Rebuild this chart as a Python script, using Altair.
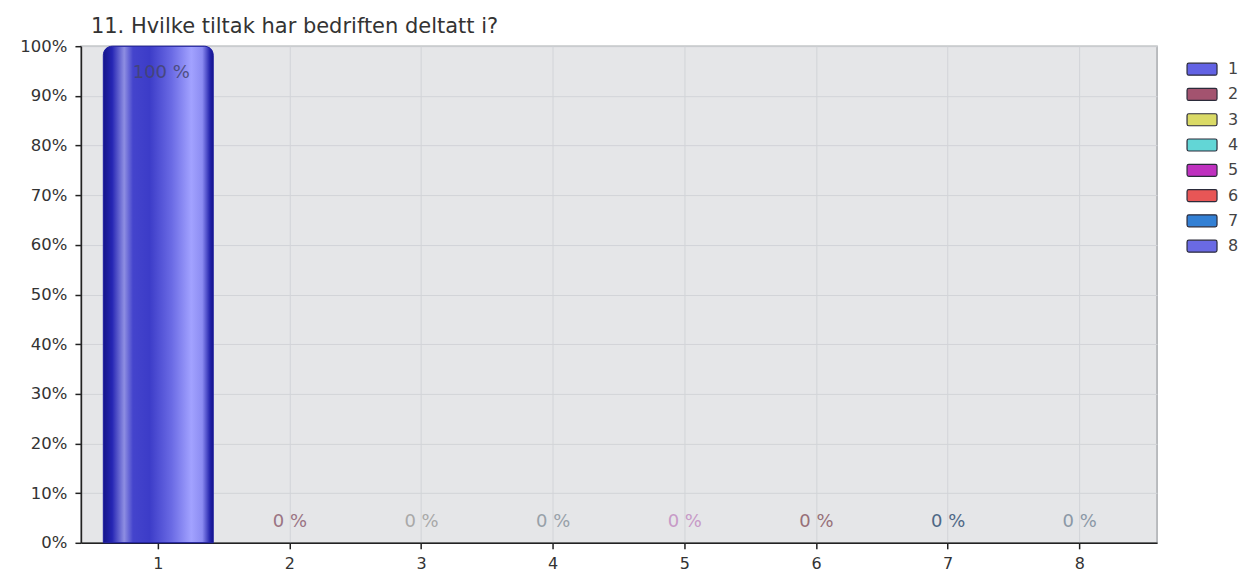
import altair as alt
import pandas as pd

# ---- data ----
categories = ["1", "2", "3", "4", "5", "6", "7", "8"]
shares = [1.0, 0.0, 0.0, 0.0, 0.0, 0.0, 0.0, 0.0]
value_labels = ["100 %", "0 %", "0 %", "0 %", "0 %", "0 %", "0 %", "0 %"]
y_ticks = [0, 0.1, 0.2, 0.3, 0.4, 0.5, 0.6, 0.7, 0.8, 0.9, 1.0]
title_text = "11. Hvilke tiltak har bedriften deltatt i?"

# ---- styling ----
legend_colors = ["#6262e4", "#a3536f", "#dada66", "#62d6d6", "#bf31bf",
                 "#e85656", "#3380d4", "#6a6ae4"]
label_colors = ["#45456e", "#9a7483", "#a9a9a9", "#98a1a8", "#c79ac7",
                "#977078", "#4f6886", "#8b98a6"]
FONT = "DejaVu Sans"

df = pd.DataFrame({"cat": categories, "share": shares, "label": value_labels})

x_enc = alt.X(
    "cat:N",
    sort=categories,
    scale=alt.Scale(paddingInner=0.165, paddingOuter=0.17),
    axis=alt.Axis(
        title=None, labelAngle=0, bandPosition=0.5, grid=True,
        gridColor="#d2d4d8", gridWidth=1, tickColor="#222", tickSize=6,
        tickWidth=1.5, domainColor="#222", domainWidth=1.5,
        labelFontSize=16, labelColor="#333", labelFont=FONT, labelPadding=7,
    ),
)
y_enc = alt.Y(
    "share:Q",
    scale=alt.Scale(domain=[0, 1], nice=False),
    axis=alt.Axis(
        title=None, values=y_ticks, format=".0%", grid=True,
        gridColor="#d2d4d8", gridWidth=1, tickColor="#222", tickSize=6,
        tickWidth=1.5, domainColor="#222", domainWidth=1.5,
        labelFontSize=16.5, labelColor="#333", labelFont=FONT, labelPadding=8,
        minExtent=64, maxExtent=64,
    ),
)

rounded_rect = ("M-0.88,-0.4 L0.88,-0.4 A0.12,0.12 0 0 1 1,-0.28 L1,0.28 "
                "A0.12,0.12 0 0 1 0.88,0.4 L-0.88,0.4 A0.12,0.12 0 0 1 -1,0.28 "
                "L-1,-0.28 A0.12,0.12 0 0 1 -0.88,-0.4 Z")

legend_bars = alt.Chart(df).mark_bar(
    cornerRadiusTopLeft=8, cornerRadiusTopRight=8
).encode(
    x=x_enc,
    y=y_enc,
    color=alt.Color(
        "cat:N",
        sort=categories,
        scale=alt.Scale(domain=categories, range=legend_colors),
        legend=alt.Legend(
            title=None,
            orient="none",
            legendX=1106,
            legendY=7,
            symbolType=rounded_rect,
            symbolSize=900,
            symbolStrokeColor="#2b2b3a",
            symbolStrokeWidth=1.2,
            symbolOpacity=1,
            labelFontSize=16,
            labelFont=FONT,
            labelColor="#444",
            labelOffset=10,
            rowPadding=0.3,
            padding=0,
        ),
    ),
)

gradient = alt.Gradient(
    gradient="linear", x1=0, x2=1, y1=0, y2=0,
    stops=[
        alt.GradientStop(offset=0.0, color="#15158a"),
        alt.GradientStop(offset=0.08, color="#2626b4"),
        alt.GradientStop(offset=0.19, color="#8e8ee2"),
        alt.GradientStop(offset=0.27, color="#4444cc"),
        alt.GradientStop(offset=0.42, color="#3c3cc8"),
        alt.GradientStop(offset=0.62, color="#6a6ae4"),
        alt.GradientStop(offset=0.8, color="#a2a2ff"),
        alt.GradientStop(offset=0.9, color="#8c8cf2"),
        alt.GradientStop(offset=0.97, color="#2424ac"),
        alt.GradientStop(offset=1.0, color="#14148a"),
    ],
)

main_bars = alt.Chart(df).transform_filter("datum.share > 0").mark_bar(
    fill=gradient, stroke="#1c1c9c", strokeWidth=1,
    cornerRadiusTopLeft=9, cornerRadiusTopRight=9,
).encode(x=x_enc, y=y_enc)

top_label = alt.Chart(df).transform_filter("datum.share > 0").mark_text(
    baseline="middle", dy=27, dx=3, fontSize=18, font=FONT, opacity=0.85
).encode(
    x=x_enc, y=y_enc, text="label:N",
    color=alt.Color("cat:N", scale=alt.Scale(domain=categories, range=label_colors), legend=None),
)

zero_labels = alt.Chart(df).transform_filter("datum.share == 0").mark_text(
    baseline="middle", dy=-21, fontSize=18, font=FONT
).encode(
    x=x_enc, y=y_enc, text="label:N",
    color=alt.Color("cat:N", scale=alt.Scale(domain=categories, range=label_colors), legend=None),
)

chart = alt.layer(legend_bars, main_bars, top_label, zero_labels).resolve_scale(
    color="independent"
).properties(
    width=1077,
    height=497,
    padding={"left": 9, "top": 8, "right": 0, "bottom": 5},
    background="white",
    title=alt.TitleParams(
        title_text, anchor="start", fontSize=21, font=FONT, color="#333",
        fontWeight="normal", offset=1, dx=74,
    ),
).configure_view(
    fill="#e5e6e8", stroke="#a8abae", strokeWidth=1.5
)

chart.save("out.html", embed_options={"renderer": "svg", "actions": False})
